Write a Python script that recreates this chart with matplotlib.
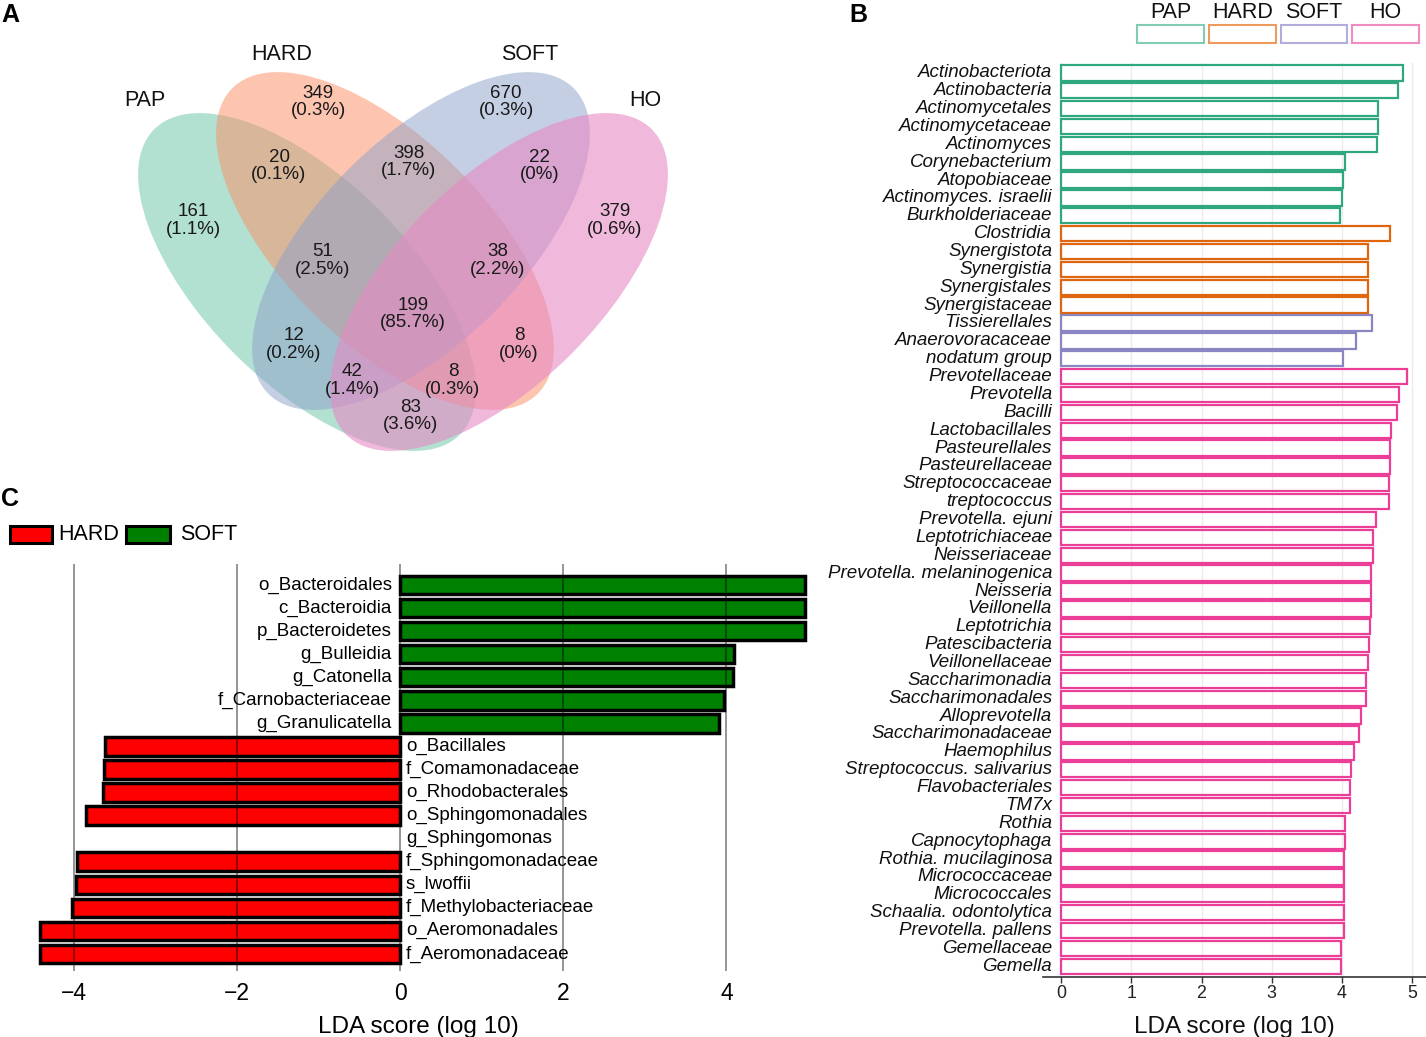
import numpy as np
import matplotlib
matplotlib.use("Agg")
import matplotlib.pyplot as plt
from matplotlib.patches import Ellipse, Rectangle

plt.rcParams['font.family'] = ['Liberation Sans', 'DejaVu Sans']

# ---------------- DATA ----------------
# Panel A: Venn diagram
venn_sets = ['PAP', 'HARD', 'SOFT', 'HO']
venn_counts = [161, 349, 670, 379, 20, 398, 22, 51, 38, 199, 12, 8, 42, 8, 83]
venn_pcts = ['1.1%', '0.3%', '0.3%', '0.6%', '0.1%', '1.7%', '0%', '2.5%',
             '2.2%', '85.7%', '0.2%', '0%', '1.4%', '0.3%', '3.6%']

# Panel B: LDA scores per group
b_taxa = ['Actinobacteriota', 'Actinobacteria', 'Actinomycetales', 'Actinomycetaceae',
          'Actinomyces', 'Corynebacterium', 'Atopobiaceae', 'Actinomyces. israelii',
          'Burkholderiaceae', 'Clostridia', 'Synergistota', 'Synergistia',
          'Synergistales', 'Synergistaceae', 'Tissierellales', 'Anaerovoracaceae',
          'nodatum group', 'Prevotellaceae', 'Prevotella', 'Bacilli', 'Lactobacillales',
          'Pasteurellales', 'Pasteurellaceae', 'Streptococcaceae', 'treptococcus',
          'Prevotella. ejuni', 'Leptotrichiaceae', 'Neisseriaceae',
          'Prevotella. melaninogenica', 'Neisseria', 'Veillonella', 'Leptotrichia',
          'Patescibacteria', 'Veillonellaceae', 'Saccharimonadia', 'Saccharimonadales',
          'Alloprevotella', 'Saccharimonadaceae', 'Haemophilus',
          'Streptococcus. salivarius', 'Flavobacteriales', 'TM7x', 'Rothia',
          'Capnocytophaga', 'Rothia. mucilaginosa', 'Micrococcaceae', 'Micrococcales',
          'Schaalia. odontolytica', 'Prevotella. pallens', 'Gemellaceae', 'Gemella']
b_scores = [4.87, 4.80, 4.52, 4.52, 4.50, 4.05, 4.02, 4.00, 3.97,
            4.69, 4.37, 4.37, 4.37, 4.37,
            4.43, 4.20, 4.02,
            4.93, 4.81, 4.79, 4.70, 4.69, 4.69, 4.67, 4.67, 4.49, 4.44, 4.44,
            4.42, 4.42, 4.42, 4.40, 4.39, 4.37, 4.34, 4.34, 4.27, 4.24, 4.17,
            4.13, 4.12, 4.12, 4.05, 4.05, 4.03, 4.03, 4.03, 4.03, 4.03, 3.99, 3.99]
b_groups = ['PAP'] * 9 + ['HARD'] * 5 + ['SOFT'] * 3 + ['HO'] * 34
b_ticks = [0, 1, 2, 3, 4, 5]

# Panel C: HARD vs SOFT LDA
c_taxa = ['o_Bacteroidales', 'c_Bacteroidia', 'p_Bacteroidetes', 'g_Bulleidia',
          'g_Catonella', 'f_Carnobacteriaceae', 'g_Granulicatella', 'o_Bacillales',
          'f_Comamonadaceae', 'o_Rhodobacterales', 'o_Sphingomonadales',
          'g_Sphingomonas', 'f_Sphingomonadaceae', 's_lwoffii',
          'f_Methylobacteriaceae', 'o_Aeromonadales', 'f_Aeromonadaceae']
c_scores = [4.96, 4.96, 4.96, 4.09, 4.08, 3.97, 3.91, -3.62, -3.63, -3.64, -3.85,
            np.nan, -3.96, -3.98, -4.02, -4.42, -4.42]
c_groups = ['HARD', 'SOFT']
c_ticks = [-4, -2, 0, 2, 4]

# ---------------- STYLE ----------------
venn_fill = {'PAP': '#66C2A5', 'HARD': '#FC8D62', 'SOFT': '#8DA0CB', 'HO': '#E78AC3'}
venn_alpha = {'PAP': 0.5, 'HARD': 0.5, 'SOFT': 0.5, 'HO': 0.6}
b_edge = {'PAP': '#2FA882', 'HARD': '#E0650F', 'SOFT': '#8A86C4', 'HO': '#EB3F97'}
b_leg = {'PAP': '#80CDB4', 'HARD': '#EE9A5C', 'SOFT': '#B2AEDB', 'HO': '#F08CC2'}
c_color = {'HARD': '#FF0000', 'SOFT': '#008000'}

W, H = 1426, 1037
fig = plt.figure(figsize=(W / 100, H / 100), dpi=100)


def rect(x0, y0, x1, y1):
    return [x0 / W, 1 - y1 / H, (x1 - x0) / W, (y1 - y0) / H]


# overlay axes in pixel coordinates
ov = fig.add_axes([0, 0, 1, 1])
ov.set_xlim(0, W)
ov.set_ylim(H, 0)
ov.axis('off')

# ---------------- PANEL A ----------------
ell_geom = [((307, 282), 45), ((385, 241), 45), ((421, 241), -45), ((499, 282), -45)]
for s, (c, ang) in zip(venn_sets, ell_geom):
    ov.add_patch(Ellipse(c, width=432, height=204, angle=ang,
                         facecolor=venn_fill[s], alpha=venn_alpha[s],
                         edgecolor='none', zorder=1))

set_label_pos = [(145, 101), (282, 54), (530, 54), (645, 101)]
for s, (x, y) in zip(venn_sets, set_label_pos):
    ov.text(x, y, s, fontsize=15.5, ha='center', va='center', color='#111111')

region_pos = [(193, 212), (318, 93), (506, 93), (615, 212), (279, 157), (409, 153),
              (540, 157), (323, 252), (498, 252), (413, 305), (294, 336), (519, 336),
              (352, 372), (453, 372), (411, 407)]
for n, p, (x, y) in zip(venn_counts, venn_pcts, region_pos):
    ov.text(x, y, str(n), fontsize=13.5, ha='center', va='center', color='#1a1a1a', zorder=5)
    ov.text(x, y + 17.5, '(' + p + ')', fontsize=13.5, ha='center', va='center',
            color='#1a1a1a', zorder=5)

# panel letters
for lab, x, y in [('A', 1, 15), ('B', 849, 15), ('C', 1, 499)]:
    ov.text(x, y, lab, fontsize=18, fontweight='bold', ha='left', va='center')

# ---------------- PANEL B ----------------
axb = fig.add_axes(rect(1043, 63, 1426, 977))
yb = np.arange(len(b_taxa))
for xg in b_ticks:
    axb.axvline(xg, color='#EBEBEB', lw=1, zorder=0)
axb.barh(yb, b_scores, height=0.86, facecolor='none',
         edgecolor=[b_edge[g] for g in b_groups], linewidth=1.6, zorder=2)
axb.set_xlim(-0.26, 5.2)
axb.set_ylim(len(b_taxa) - 1 + 0.6, -0.55)
axb.set_yticks([])
for i, t in enumerate(b_taxa):
    axb.text(-0.13, i, t, ha='right', va='center', fontsize=13.5, style='italic',
             color='#111111')
axb.set_xticks(b_ticks)
axb.tick_params(axis='x', length=4, width=1, color='#333333', pad=2, labelsize=12.8,
                labelcolor='#222222')
for sp in ['top', 'right', 'left']:
    axb.spines[sp].set_visible(False)
axb.spines['bottom'].set_color('#333333')
axb.spines['bottom'].set_linewidth(1.2)
axb.set_xlabel('LDA score (log 10)', fontsize=17.5, labelpad=10, color='#111111')
axb.patch.set_alpha(0)

# legend B
leg_x = [(1137, 1204), (1209, 1276), (1281, 1347), (1352, 1419)]
for s, (x0, x1) in zip(venn_sets, leg_x):
    ov.add_patch(Rectangle((x0, 25), x1 - x0, 18, facecolor='none',
                           edgecolor=b_leg[s], lw=1.5))
    ov.text((x0 + x1) / 2, 12, s, fontsize=15.5, ha='center', va='center', color='#111111')

# ---------------- PANEL C ----------------
axc = fig.add_axes(rect(25, 564, 812, 971))
yc = np.arange(len(c_taxa))
cols = [c_color['SOFT'] if (v > 0) else c_color['HARD'] for v in c_scores]
axc.barh(yc, c_scores, height=0.8, color=cols, edgecolor='black', linewidth=2.5, zorder=2)
for xg in c_ticks:
    axc.axvline(xg, color='black', alpha=0.45, lw=1.3, zorder=4)
axc.set_xlim(-4.6, 5.05)
axc.set_ylim(len(c_taxa) - 1 + 0.74, -0.91)
axc.set_yticks([])
for i, (t, v) in enumerate(zip(c_taxa, c_scores)):
    if v > 0:
        axc.text(-0.1, i, t, ha='right', va='center', fontsize=13.5, zorder=5)
    else:
        axc.text(0.07, i, t, ha='left', va='center', fontsize=13.5, zorder=5)
axc.set_xticks(c_ticks)
axc.set_xticklabels(['\u2212' + str(abs(t)) if t < 0 else str(t) for t in c_ticks])
axc.tick_params(axis='x', length=0, pad=8, labelsize=16.5)
for sp in axc.spines.values():
    sp.set_visible(False)
axc.set_xlabel('LDA score (log 10)', fontsize=17.5, labelpad=7.5)
axc.patch.set_alpha(0)

# legend C
ov.add_patch(Rectangle((10, 526), 42, 17, facecolor=c_color['HARD'], edgecolor='black', lw=2.2))
ov.text(58, 535, c_groups[0], fontsize=15.5, ha='left', va='center')
ov.add_patch(Rectangle((126, 526), 44, 17, facecolor=c_color['SOFT'], edgecolor='black', lw=2.2))
ov.text(180, 535, c_groups[1], fontsize=15.5, ha='left', va='center')

fig.savefig('out.png', dpi=100)
